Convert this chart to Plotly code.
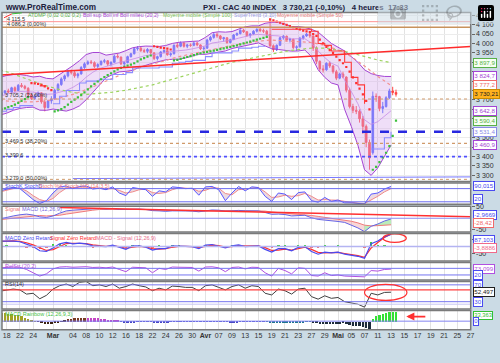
import plotly.graph_objects as go

W, H = 500, 363
FONT = "Liberation Sans, Arial, sans-serif"

# ---------------- x axis (trading-day index, 18 Feb 2010 = 0) ----------------
x_tick_days = [0, 2, 4, 7, 10, 12, 14, 16, 18, 20, 22, 24, 26, 28, 30, 32, 34, 36, 38, 40,
               42, 44, 46, 48, 50, 52, 54, 56, 58, 60, 62, 64, 66, 68, 70]
x_tick_text = ["18", "22", "24", "<b>Mar</b>", "04", "08", "10", "12", "16", "18", "22", "24",
               "26", "30", "<b>Avr</b>", "07", "09", "13", "15", "19", "21", "23", "27", "29",
               "<b>Mai</b>", "05", "07", "11", "13", "15", "17", "19", "21", "25", "27"]

days = list(range(-1, 59))                       # one entry per trading day
bar_x = [d + h for d in days for h in (0.25, 0.75)]  # two 4-hour bars per day
sma_days = [-1, 0, 2, 4, 6, 8, 10, 12, 14, 16, 18, 20, 22, 24, 26, 28, 30, 32, 34, 36, 38,
            40, 42, 44, 46, 48, 50, 52, 54, 56, 58]

price_ticks = [4150, 4100, 4050, 4000, 3950, 3900, 3850, 3800, 3750, 3700, 3650, 3600, 3550,
               3500, 3450, 3400, 3350, 3300]
price_tick_text = ["4 150", "4 100", "4 050", "4 000", "3 950", "", "", "",
                   "", "3 700", "", "", "",
                   "3 500", "", "3 400", "3 350", "3 300"]

# ---------------- price bars ----------------
opens = [3725, 3738, 3748, 3742, 3765, 3750, 3778, 3772, 3762, 3728, 3708, 3722, 3738, 3690,
         3660, 3695, 3705, 3752, 3782, 3812, 3828, 3850, 3845, 3828, 3838, 3872, 3892, 3902,
         3898, 3878, 3888, 3905, 3908, 3890, 3900, 3932, 3928, 3892, 3898, 3930, 3945, 3972,
         3975, 3962, 3958, 3968, 3950, 3920, 3930, 3955, 3962, 3940, 3945, 3990, 3985, 4002,
         3985, 3992, 3990, 4002, 3992, 3972, 3975, 4018, 4032, 4048, 4040, 4025, 4030, 4005,
         4020, 4045, 4052, 4070, 4062, 4042, 4050, 4065, 4075, 4068, 4065, 4048, 3988, 3968,
         3990, 4030, 4038, 4018, 4022, 3978, 3982, 4028, 4040, 4050, 4040, 3975, 3905, 3865,
         3860, 3895, 3880, 3850, 3816, 3838, 3822, 3752, 3665, 3645, 3640, 3600, 3560, 3475,
         3420, 3720, 3718, 3655, 3665, 3712, 3748, 3740]
highs = [3745, 3752, 3760, 3770, 3772, 3785, 3790, 3780, 3768, 3735, 3730, 3745, 3740, 3700,
         3700, 3720, 3760, 3790, 3820, 3835, 3860, 3862, 3855, 3845, 3880, 3900, 3910, 3912,
         3905, 3895, 3910, 3918, 3912, 3905, 3940, 3945, 3930, 3905, 3935, 3950, 3980, 3985,
         3982, 3972, 3975, 3970, 3952, 3935, 3960, 3968, 3965, 3952, 3995, 4005, 4010, 4008,
         3998, 4000, 4010, 4008, 3995, 3985, 4025, 4040, 4055, 4058, 4045, 4035, 4032, 4025,
         4050, 4058, 4075, 4078, 4065, 4055, 4070, 4080, 4086, 4078, 4072, 4128, 3995, 3995,
         4035, 4045, 4042, 4030, 4025, 3990, 4035, 4045, 4055, 4058, 4042, 3985, 3910, 3885,
         3900, 3905, 3885, 3860, 3845, 3850, 3825, 3765, 3680, 3668, 3650, 3615, 3570, 3490,
         3745, 3735, 3722, 3690, 3720, 3760, 3770, 3755]
lows = [3718, 3730, 3735, 3738, 3740, 3748, 3765, 3755, 3720, 3700, 3700, 3715, 3680, 3640,
        3655, 3680, 3700, 3745, 3775, 3800, 3820, 3835, 3818, 3815, 3835, 3865, 3885, 3890,
        3870, 3868, 3882, 3895, 3880, 3878, 3898, 3920, 3885, 3880, 3895, 3925, 3942, 3962,
        3955, 3950, 3948, 3940, 3912, 3910, 3925, 3948, 3935, 3930, 3942, 3975, 3980, 3978,
        3975, 3982, 3985, 3985, 3965, 3962, 3972, 4010, 4025, 4030, 4018, 4010, 3998, 4000,
        4018, 4040, 4048, 4055, 4035, 4030, 4045, 4058, 4060, 4055, 4040, 3980, 3955, 3960,
        3988, 4020, 4010, 4005, 3970, 3960, 3978, 4020, 4035, 4030, 3960, 3890, 3850, 3845,
        3855, 3870, 3840, 3805, 3810, 3815, 3740, 3655, 3630, 3625, 3580, 3520, 3450, 3330,
        3410, 3690, 3640, 3630, 3660, 3705, 3725, 3718]
closes = [3738, 3748, 3742, 3765, 3750, 3778, 3772, 3762, 3728, 3708, 3722, 3738, 3690, 3660,
          3695, 3705, 3752, 3782, 3812, 3828, 3850, 3845, 3828, 3838, 3872, 3892, 3902, 3898,
          3878, 3888, 3905, 3908, 3890, 3900, 3932, 3928, 3892, 3898, 3930, 3945, 3972, 3975,
          3962, 3958, 3968, 3950, 3920, 3930, 3955, 3962, 3940, 3945, 3990, 3985, 4002, 3985,
          3992, 3990, 4002, 3992, 3972, 3975, 4018, 4032, 4048, 4040, 4025, 4030, 4005, 4020,
          4045, 4052, 4070, 4062, 4042, 4050, 4065, 4075, 4068, 4065, 4048, 3988, 3968, 3990,
          4030, 4038, 4018, 4022, 3978, 3982, 4028, 4040, 4050, 4040, 3975, 3905, 3865, 3860,
          3895, 3880, 3850, 3816, 3838, 3822, 3752, 3665, 3645, 3640, 3600, 3560, 3475, 3392,
          3720, 3718, 3655, 3665, 3712, 3748, 3740, 3730.21]

# ---------------- price-panel indicators ----------------
boll_up = [3820, 3830, 3835, 3835, 3830, 3822, 3826, 3815, 3812, 3835, 3861, 3882, 3909, 3941,
           3952, 3952, 3938, 3945, 3949, 3962, 3977, 3983, 3986, 3985, 3984, 3989, 4000, 4006,
           4007, 4011, 4013, 4032, 4057, 4062, 4060, 4063, 4076, 4088, 4093, 4093, 4107, 4112,
           4112, 4103, 4089, 4090, 4085, 4075, 4060, 4030, 4000, 3980, 3960, 3930, 3900, 3860,
           3840, 3830, 3825, 3824.7]
boll_mid = [3720, 3730, 3740, 3745, 3745, 3742, 3736, 3730, 3732, 3740, 3751, 3767, 3789, 3821,
            3847, 3867, 3878, 3890, 3899, 3907, 3917, 3928, 3936, 3940, 3944, 3951, 3958, 3961,
            3965, 3971, 3978, 3987, 4002, 4007, 4010, 4018, 4028, 4038, 4045, 4048, 4047, 4042,
            4040, 4033, 4024, 4025, 4025, 4002, 3960, 3925, 3895, 3880, 3805, 3745, 3680, 3595,
            3570, 3585, 3612, 3642.8]
boll_lo = [3620, 3630, 3645, 3655, 3660, 3662, 3646, 3645, 3652, 3645, 3641, 3652, 3669, 3701,
           3742, 3782, 3818, 3835, 3849, 3852, 3857, 3873, 3886, 3895, 3904, 3913, 3916, 3916,
           3923, 3931, 3943, 3942, 3947, 3952, 3960, 3973, 3980, 3988, 3997, 4003, 3987, 3972,
           3968, 3963, 3959, 3960, 3965, 3930, 3860, 3820, 3790, 3780, 3650, 3560, 3460, 3330,
           3300, 3340, 3400, 3460.9]
sma100 = [3860, 3850, 3825, 3800, 3775, 3755, 3740, 3730, 3735, 3742, 3752, 3765, 3780, 3800,
          3820, 3840, 3860, 3880, 3900, 3915, 3930, 3945, 3958, 3968, 3975, 3975, 3965, 3950,
          3930, 3912, 3897.9]
sma50 = [3700, 3695, 3690, 3690, 3695, 3710, 3730, 3755, 3785, 3815, 3845, 3870, 3890, 3910,
         3930, 3945, 3960, 3975, 3990, 4000, 4012, 4018, 4015, 4010, 4005, 3990, 3965, 3930,
         3880, 3825, 3777.2]
sar = [3650, 3655, 3662, 3668, 3675, 3685, 3695, 3705, 3715,
       3790, 3788, 3785, 3780, 3772, 3762, 3752,
       3640, 3645, 3652, 3662, 3675, 3690, 3702, 3714, 3726, 3740, 3756, 3772, 3786, 3798, 3810,
       3822, 3832, 3842, 3852, 3862, 3870, 3876, 3882, 3888, 3895, 3905, 3915, 3922, 3930, 3936,
       3985, 3982, 3978, 3975, 3972, 3968,
       3910, 3913, 3918, 3923, 3928, 3933, 3938, 3943, 3948, 3952, 3955, 3958, 3962, 3966, 3970,
       3974, 3978, 3982, 3986, 3990, 3995, 4000, 4005, 4010, 4015, 4020, 4025, 4030, 4035,
       4128, 4122, 4116, 4110, 4104, 4098, 4092, 4086, 4080, 4074, 4068, 4064, 4060, 4050, 4040,
       4020, 4000, 3982, 3965, 3950, 3930, 3912, 3895, 3875, 3850, 3820, 3790, 3760, 3730, 3695,
       3650,
       3330, 3345, 3370, 3395, 3420, 3455, 3510, 3590.4]
supertrend = [3640, 3650, 3660, 3670, 3670, 3670, 3775, 3775, 3680, 3720, 3750, 3750, 3790, 3800,
              3800, 3810, 3810, 3835, 3835, 3845, 3870, 3870, 3870, 3870, 3875, 3875, 3895, 3900,
              3905, 3910, 3910, 3930, 3950, 3950, 3950, 3960, 3975, 3975, 3980, 3985, 3985, 4075,
              4075, 4075, 4075, 4075, 4075, 4065, 4000, 3990, 3960, 3960, 3900, 3820, 3780, 3680,
              3440, 3440, 3500, 3531.4]
supertrend_dir = "uuuuuu" + "dd" + "u" * 33 + "d" * 15 + "uuuu"

# horizontal levels / drawn lines
fib_levels = [4086.2, 3705.2, 3469.5, 3279.0]
fib_labels = ["4 086,2 (0,00%)", "3 705,2 (23,60%)", "3 469,5 (38,20%)", "3 279,0 (50,00%)"]
resistance_level = 4115.5
support_dashed = 3531.4
support_dotted = 3399.6
trend_days = [-1, 70]
trend_prices = [3832, 3984]
low_line_days = [10, 70]
low_line_prices = [3283, 3292]

# ---------------- oscillators (one value per trading day) ----------------
stoch_k = [70, 78, 85, 80, 55, 30, 12, 25, 60, 88, 92, 80, 90, 92, 78, 82, 75, 88, 60, 48, 85,
           80, 75, 45, 70, 65, 88, 85, 80, 82, 50, 88, 90, 75, 25, 60, 90, 70, 88, 85, 45, 22,
           60, 55, 30, 62, 65, 25, 18, 40, 22, 28, 15, 15, 12, 10, 55, 60, 78, 90]
stoch_d = [65, 72, 80, 82, 70, 48, 30, 22, 35, 62, 82, 85, 86, 88, 85, 82, 78, 80, 72, 60, 65,
           75, 78, 62, 58, 62, 75, 84, 82, 80, 68, 72, 85, 82, 58, 52, 75, 78, 80, 85, 65, 40,
           42, 50, 45, 48, 58, 45, 28, 30, 28, 27, 22, 17, 14, 12, 28, 45, 65, 80]
macd = [-3, 5, 10, 15, 18, 14, 6, 3, 10, 22, 32, 35, 38, 40, 41, 42, 40, 42, 38, 38, 40, 40, 38,
        33, 32, 30, 32, 33, 32, 31, 28, 32, 36, 35, 31, 32, 34, 32, 33, 32, 25, 17, 18, 16, 10,
        12, 13, 2, -5, -8, -10, -14, -18, -30, -42, -58, -35, -25, -12, -3]
macd_signal = [-6, -3, 1, 5, 9, 12, 12, 10, 10, 13, 18, 23, 28, 32, 35, 38, 39, 40, 40, 39, 39,
               39, 39, 37, 36, 34, 33, 33, 33, 32, 31, 31, 32, 33, 33, 33, 33, 33, 33, 33, 31, 27,
               25, 23, 19, 17, 16, 12, 8, 4, 0, -4, -8, -13, -20, -30, -33, -32, -30, -28.42]
macd_trend_days = [8, 70]
macd_trend_vals = [47, 6]
zl_macd = [40, 42, 40, 35, 15, 0, -30, -35, -10, 20, 30, 20, 25, 20, 5, 5, 0, 10, -5, -20, 5, 5,
           -5, -25, -15, -15, 5, 5, 0, 0, -15, 10, 15, 5, -10, 5, 12, 0, 5, 5, -20, -40, -15, -15,
           -30, -5, 0, -35, -55, -40, -45, -40, -55, -60, -70, -85, 20, 40, 70, 87.103]
zl_signal = [38, 40, 41, 38, 28, 12, -10, -28, -22, 2, 22, 24, 24, 22, 12, 6, 2, 6, 0, -12, -6, 2,
             -2, -15, -18, -15, -5, 2, 1, 0, -8, 0, 10, 8, -3, 0, 8, 5, 4, 5, -8, -28, -25, -18,
             -25, -15, -5, -20, -42, -45, -45, -42, -50, -57, -65, -78, -10, 30, 65, 91]
rel_str = [85, 90, 92, 90, 70, 40, 10, 30, 75, 92, 95, 90, 95, 95, 88, 90, 85, 92, 70, 50, 90, 88,
           85, 40, 80, 70, 92, 90, 88, 88, 55, 92, 94, 85, 50, 88, 92, 75, 90, 88, 40, 10, 80, 60,
           30, 85, 80, 15, 10, 40, 15, 20, 10, 8, 5, 3, 60, 55, 70, 73.099]
rsi = [55, 58, 60, 58, 48, 50, 37, 45, 60, 68, 72, 66, 76, 78, 68, 70, 66, 72, 62, 66, 72, 68, 65,
       56, 62, 58, 67, 66, 64, 64, 56, 68, 70, 64, 58, 66, 70, 62, 68, 66, 50, 46, 60, 56, 48, 60,
       62, 42, 36, 44, 38, 40, 30, 27, 24, 17, 50, 46, 52, 52.497]
rsi_red_level = 58.2
rainbow = [30, 30, 28, 26, 24, 22, 18, 14, 8, 4, 2, 1, -4, -8, -10, -8, -5, -2, 2, 5,
           8, 10, 11, 12, 13, 14, 14, 13, 12, 11, 10, 9, 7, 6, 5, 4, -1, -3, -5, -4,
           -2, -1, 0.5, 0.5, 0.5, -1, -3, -5, -6, -5, -3, -1, 0.5, 1, 1, 0.5, 1.5, 2, 1.5, 1,
           -0.5, -1, 0.5, 1, 1.5, 2, 2, 1, -1, -3, -4, -3, -1, 0.5, 1, 1, 1, 1.5, 1, 0.5,
           -1, -3, -5, -6, -6, -5, -4, -3, -4, -5, -4, -2, -1, 0.5, -2, -4, -7, -9, -10, -9,
           -8, -8, -7, -6, -9, -12, -14, -15, -17, -20, -24, -28, 10, 18, 22, 25, 30, 34, 33, 33.363]

assert len(opens) == len(highs) == len(lows) == len(closes) == len(bar_x) == len(sar) == len(rainbow)
for s in (boll_up, boll_mid, boll_lo, supertrend, stoch_k, stoch_d, macd, macd_signal,
          zl_macd, zl_signal, rel_str, rsi):
    assert len(s) == len(days), len(s)
assert len(sma100) == len(sma50) == len(sma_days)

# ---------------- colours ----------------
BLUE = "#4a5cff"
RED = "#ff4646"
PURPLE = "#a444d4"

# ---------------- layout geometry (pixels) ----------------
X0, X1 = 2, 474.5
XR = [-0.7, 70.02]
panels = {  # name: (top px, bottom px, y-range)
    "price": (9.5, 180.5, [3267.5, 4164.7]),
    "stoch": (182, 203.5, [8.7, 105.7]),
    "macd": (205.5, 231.5, [-59.4, 52.1]),
    "zl": (233, 261, [-105, 95]),
    "rel": (262.5, 280, [-24.8, 132]),
    "rsi": (281.5, 309.5, [12.4, 78.2]),
    "rain": (311, 330.5, [-30.3, 36.9]),
}
order = ["price", "stoch", "macd", "zl", "rel", "rsi", "rain"]
ax = {n: ("" if i == 0 else str(i + 1)) for i, n in enumerate(order)}

fig = go.Figure()


def xa(n):
    return "x" + ax[n]


def ya(n):
    return "y" + ax[n]


# ---- price panel traces ----
fig.add_trace(go.Scatter(x=days, y=boll_up, mode="lines", line=dict(color=PURPLE, width=1),
                         xaxis="x", yaxis="y", hoverinfo="skip"))
fig.add_trace(go.Scatter(x=days, y=boll_lo, mode="lines", line=dict(color=PURPLE, width=1),
                         fill="tonexty", fillcolor="rgba(214,168,236,0.38)",
                         xaxis="x", yaxis="y", hoverinfo="skip"))
fig.add_trace(go.Scatter(x=days, y=boll_mid, mode="lines", line=dict(color="#c58ae6", width=0.8),
                         xaxis="x", yaxis="y", hoverinfo="skip"))
fig.add_trace(go.Scatter(x=sma_days, y=sma100, mode="lines",
                         line=dict(color="#9cd35e", width=1.2, dash="dot"),
                         xaxis="x", yaxis="y", hoverinfo="skip"))
fig.add_trace(go.Scatter(x=sma_days, y=sma50, mode="lines",
                         line=dict(color="#f29090", width=1.2, dash="dot"),
                         xaxis="x", yaxis="y", hoverinfo="skip"))
st_up = [v if d == "u" else None for v, d in zip(supertrend, supertrend_dir)]
st_dn = [v if d == "d" else None for v, d in zip(supertrend, supertrend_dir)]
fig.add_trace(go.Scatter(x=days, y=st_up, mode="lines", line=dict(color="#8c8cff", width=1.1, shape="hv"),
                         xaxis="x", yaxis="y", hoverinfo="skip", connectgaps=False))
fig.add_trace(go.Scatter(x=days, y=st_dn, mode="lines", line=dict(color="#ff3a3a", width=1.1, shape="hv"),
                         xaxis="x", yaxis="y", hoverinfo="skip", connectgaps=False))
fig.add_trace(go.Candlestick(x=bar_x, open=opens, high=highs, low=lows, close=closes,
                             increasing=dict(line=dict(color=BLUE, width=1), fillcolor=BLUE),
                             decreasing=dict(line=dict(color=RED, width=1), fillcolor=RED),
                             whiskerwidth=0, xaxis="x", yaxis="y", hoverinfo="skip"))
sar_col = ["#3cc03c" if s < c else "#ff3030" for s, c in zip(sar, closes)]
fig.add_trace(go.Scatter(x=bar_x, y=sar, mode="markers",
                         marker=dict(color=sar_col, size=2.2, symbol="square"),
                         xaxis="x", yaxis="y", hoverinfo="skip"))
fig.add_trace(go.Scatter(x=trend_days, y=trend_prices, mode="lines", line=dict(color="#ff2a2a", width=1.6),
                         xaxis="x", yaxis="y", hoverinfo="skip"))
fig.add_trace(go.Scatter(x=low_line_days, y=low_line_prices, mode="lines", line=dict(color="#7878ff", width=1),
                         xaxis="x", yaxis="y", hoverinfo="skip"))

# ---- stochastic ----
fig.add_trace(go.Scatter(x=days, y=stoch_d, mode="lines", line=dict(color="#f08a8a", width=1),
                         xaxis=xa("stoch"), yaxis=ya("stoch"), hoverinfo="skip"))
fig.add_trace(go.Scatter(x=days, y=stoch_k, mode="lines", line=dict(color="#5a5aff", width=1),
                         fill="tonexty", fillcolor="rgba(200,150,170,0.35)",
                         xaxis=xa("stoch"), yaxis=ya("stoch"), hoverinfo="skip"))

# ---- MACD ----
cut = 56
fig.add_trace(go.Scatter(x=days[:cut], y=macd_signal[:cut], mode="lines", line=dict(color="#f07a7a", width=1),
                         xaxis=xa("macd"), yaxis=ya("macd"), hoverinfo="skip"))
fig.add_trace(go.Scatter(x=days[:cut], y=macd[:cut], mode="lines", line=dict(color="#6464e6", width=1),
                         fill="tonexty", fillcolor="rgba(240,150,150,0.38)",
                         xaxis=xa("macd"), yaxis=ya("macd"), hoverinfo="skip"))
fig.add_trace(go.Scatter(x=days[cut - 1:], y=macd_signal[cut - 1:], mode="lines", line=dict(color="#f07a7a", width=1),
                         xaxis=xa("macd"), yaxis=ya("macd"), hoverinfo="skip"))
fig.add_trace(go.Scatter(x=days[cut - 1:], y=macd[cut - 1:], mode="lines", line=dict(color="#6464e6", width=1),
                         fill="tonexty", fillcolor="rgba(130,220,130,0.55)",
                         xaxis=xa("macd"), yaxis=ya("macd"), hoverinfo="skip"))
fig.add_trace(go.Scatter(x=macd_trend_days, y=macd_trend_vals, mode="lines", line=dict(color="#ff3030", width=1.5),
                         xaxis=xa("macd"), yaxis=ya("macd"), hoverinfo="skip"))

# ---- MACD zero lag ----
zl_hist = [a - b for a, b in zip(zl_macd, zl_signal)]
fig.add_trace(go.Bar(x=days, y=zl_hist, width=0.35,
                     marker=dict(color=["#3ccf3c" if v >= 0 else "#f07070" for v in zl_hist], line=dict(width=0)),
                     xaxis=xa("zl"), yaxis=ya("zl"), hoverinfo="skip"))
fig.add_trace(go.Scatter(x=days, y=zl_signal, mode="lines", line=dict(color="#ff3030", width=1.2),
                         xaxis=xa("zl"), yaxis=ya("zl"), hoverinfo="skip"))
fig.add_trace(go.Scatter(x=days, y=zl_macd, mode="lines", line=dict(color="#4a4af0", width=1.2),
                         xaxis=xa("zl"), yaxis=ya("zl"), hoverinfo="skip"))

# ---- relative strength ----
fig.add_trace(go.Scatter(x=days, y=rel_str, mode="lines", line=dict(color="#b050e0", width=1),
                         xaxis=xa("rel"), yaxis=ya("rel"), hoverinfo="skip"))

# ---- RSI ----
fig.add_trace(go.Scatter(x=days, y=rsi, mode="lines", line=dict(color="#404040", width=1),
                         xaxis=xa("rsi"), yaxis=ya("rsi"), hoverinfo="skip"))

# ---- MACD rainbow ----


def rainbow_color(d):
    if d < 4.5:
        return "#a3a322"
    if d < 9:
        return "#3c2212"
    if d < 12:
        return "#7a3a22"
    if d < 17:
        return "#c444c4"
    if d < 39:
        return "#4848c4"
    if d < 46:
        return "#207592"
    if d < 55:
        return "#1e2c3c"
    return "#34e034"


fig.add_trace(go.Bar(x=bar_x, y=rainbow, width=0.36,
                     marker=dict(color=[rainbow_color(d) for d in bar_x], line=dict(width=0)),
                     xaxis=xa("rain"), yaxis=ya("rain"), hoverinfo="skip"))

# ---------------- axes ----------------
layout = dict(width=W, height=H, margin=dict(l=0, r=0, t=0, b=0),
              paper_bgcolor="#cbdbe5", plot_bgcolor="white", showlegend=False,
              bargap=0, font=dict(family=FONT))
tickfont = dict(size=7, color="#333", family=FONT)
for i, n in enumerate(order):
    top, bot, rng = panels[n]
    xk = "xaxis" + ax[n]
    yk = "yaxis" + ax[n]
    xd = dict(domain=[X0 / W, X1 / W], range=XR, anchor=ya(n), tickvals=x_tick_days,
              ticktext=x_tick_text, showticklabels=(n == "rain"), showgrid=True,
              gridcolor="#e3e3e3", gridwidth=1, zeroline=False, ticks="", tickfont=tickfont,
              fixedrange=True, rangeslider=dict(visible=False))
    if i > 0:
        xd["matches"] = "x"
    layout[xk] = xd
    yd = dict(domain=[1 - bot / H, 1 - top / H], range=rng, anchor=xa(n), side="right",
              showgrid=False, zeroline=False, ticks="outside", ticklen=3, tickcolor="#666",
              tickfont=tickfont, fixedrange=True, tickvals=[])
    if n == "price":
        yd.update(tickvals=price_ticks, ticktext=price_tick_text, showgrid=True, gridcolor="#ececec")
    if n == "macd":
        yd.update(tickvals=[50, -50], ticktext=["50", "-50"])
    if n == "zl":
        yd.update(tickvals=[50, -50], ticktext=["", "-50"])
    layout[yk] = yd

# ---------------- shapes ----------------
shapes = []


def hline(n, y, color, width, dash="solid"):
    shapes.append(dict(type="line", xref=xa(n), yref=ya(n), x0=XR[0], x1=XR[1], y0=y, y1=y,
                       line=dict(color=color, width=width, dash=dash)))


hline("price", resistance_level, "#ff9494", 1)
hline("price", fib_levels[0], "#c8925c", 1.6)
hline("price", fib_levels[1], "#d09a6a", 1.2, "dot")
hline("price", fib_levels[2], "#d09a6a", 1.2, "dot")
hline("price", fib_levels[3], "#d09a6a", 1, "dot")
hline("price", support_dashed, "#2828e0", 2.6, "dash")
hline("price", support_dotted, "#5050ff", 1.6, "dot")
hline("stoch", 80, "#6a6af0", 1)
hline("stoch", 20, "#6a6af0", 1)
hline("macd", 0, "#8c8cf0", 1)
hline("zl", 0, "#b4b4f2", 1.5)
hline("rel", 80, "#7474f0", 1)
hline("rel", 20, "#7474f0", 1)
hline("rsi", 70, "#7474f0", 1)
hline("rsi", rsi_red_level, "#ff4040", 1.2)
hline("rsi", 30, "#7474f0", 1)
hline("rsi", 24, "#c8c8f4", 1)
hline("rain", 0, "#8484f0", 1)

shapes.append(dict(type="circle", xref=xa("zl"), yref=ya("zl"), x0=56.8, x1=60.3, y0=30, y1=92,
                   line=dict(color="#ff3030", width=1.2)))
shapes.append(dict(type="circle", xref=xa("rsi"), yref=ya("rsi"), x0=54, x1=60.4, y0=33, y1=71,
                   line=dict(color="#ff3030", width=1.2)))

for n in order:
    top, bot, _ = panels[n]
    shapes.append(dict(type="rect", xref="paper", yref="paper", x0=X0 / W, x1=X1 / W,
                       y0=1 - bot / H, y1=1 - top / H, line=dict(color="#7a7a7a", width=1.5),
                       fillcolor="rgba(0,0,0,0)", layer="above"))

# ---------------- annotations ----------------
ann = []


def txt(px, py, s, color, size=5.5, bold=False, anchor="left"):
    if bold:
        s = "<b>" + s + "</b>"
    ann.append(dict(x=px / W, y=1 - py / H, xref="paper", yref="paper", text=s, showarrow=False,
                    xanchor=anchor, yanchor="middle", font=dict(size=size, color=color, family=FONT)))


def vbox(n, y, s, color, bg="white", border=None, size=6.2):
    ann.append(dict(x=476.5 / W, xref="paper", y=y, yref=ya(n), text=s, showarrow=False,
                    xanchor="left", yanchor="middle", font=dict(size=size, color=color, family=FONT),
                    bgcolor=bg, bordercolor=border or color, borderwidth=1, borderpad=0.3))


txt(3, 5, "www.ProRealTime.com", "#20203c", 8.2, True)
txt(203, 5, "PXI - CAC 40 INDEX&nbsp;&nbsp; 3 730,21 (-0,10%)&nbsp;&nbsp; 4 heures&nbsp; 17:33", "#20203c", 7.8, True)

# legend row of the price panel
txt(26, 12.5, "ATDMP (0,02 0,02 0,2)", "#58b048", 5.2)
txt(82, 12.5, "Boll sup Boll inf Boll milieu (20,2)", PURPLE, 5.2)
txt(162, 12.5, "Moyenne mobile (Simple 100)", "#78c050", 5.2)
txt(234, 12.5, "SuperTrend (3,10)", "#9a9ae6", 5.2)
txt(277, 12.5, "Moyenne mobile (Simple 50)", "#e87878", 5.2)
shapes.append(dict(type="line", xref="paper", yref="paper", x0=4 / W, x1=12 / W, y0=1 - 15 / H, y1=1 - 11 / H,
                   line=dict(color="#ff3030", width=1)))
shapes.append(dict(type="line", xref="paper", yref="paper", x0=12 / W, x1=22 / W, y0=1 - 11 / H, y1=1 - 10 / H,
                   line=dict(color="#3cc03c", width=1)))
layout["shapes"] = shapes

txt(5, 16.5, "4 115,5", "#333")
txt(5, 21.5, fib_labels[0], "#333")
txt(3, 93.5, fib_labels[1], "#333")
txt(3, 139.5, fib_labels[2], "#333")
txt(3, 153.5, "3 399,6", "#333")
txt(3, 177, fib_labels[3], "#333")

# panel titles
txt(3, 185.5, "StochK StochD", "#4a4af0")
txt(37, 185.5, "Stoch %K Stoch %D (14,3,5)", "#f07a7a")
txt(3, 208.5, "Signal", "#f07a7a")
txt(20, 208.5, "MACD (12,26,9)", "#7a6ae0")
txt(3, 237.5, "MACD Zéro Retard", "#4a4af0")
txt(48, 237.5, "Signal Zéro Retard", "#ff3030")
txt(95, 237.5, "MACD - Signal (12,26,9)", "#e86a8a")
txt(3, 265.5, "RelStr (20,2)", "#b050e0")
txt(3, 284.5, "RSI(14)", "#303030")
txt(3, 314, "MACD Rainbow (12,26,9,3)", "#44c044")

# value boxes on the right
vbox("price", 3897.9, "3 897,9", "#58b048", "#f6fff2")
vbox("price", 3824.7, "3 824,7", PURPLE)
vbox("price", 3777.2, "3 777,2", "#f06a6a")
vbox("price", 3730.21, "3 730,21", "#202020", "#ffb21e", "#c88a00")
vbox("price", 3642.8, "3 642,8", PURPLE)
vbox("price", 3590.4, "3 590,4", "#58b048", "#f6fff2")
vbox("price", 3531.4, "3 531,4", "#8a8ae6")
vbox("price", 3460.9, "3 460,9", PURPLE)
vbox("stoch", stoch_k[-1], "90,015", "#4a4af0")
vbox("stoch", 33, "20", "#4a4af0")
vbox("macd", 12, "-2,9669", "#4a4af0")
vbox("macd", -19, "-28,42", "#f06a6a")
vbox("zl", 45, "87,103", "#4a4af0")
vbox("zl", -12, "-3,8886", "#f06a8a")
vbox("rel", rel_str[-1], "73,099", "#b050e0")
vbox("rel", 20, "20", "#4a4af0")
vbox("rsi", 70, "70", "#4a4af0")
vbox("rsi", rsi[-1], "52,497", "#202020")
vbox("rsi", 30, "30", "#4a4af0")
vbox("rain", 21, "33,363", "#34c034", size=5.8)
vbox("rain", -1, "0", "#4a4af0", size=5.8)

# red arrow in rainbow panel
ann.append(dict(x=60.3, y=16, xref=xa("rain"), yref=ya("rain"), ax=63.4, ay=16,
                axref=xa("rain"), ayref=ya("rain"), text="", showarrow=True,
                arrowcolor="#ff3030", arrowwidth=1.8, arrowhead=2, arrowsize=0.9))

layout["annotations"] = ann
fig.update_layout(**layout)
fig.write_html("out.html",
               post_script="document.body.style.margin='0px';document.body.style.padding='0px';")
